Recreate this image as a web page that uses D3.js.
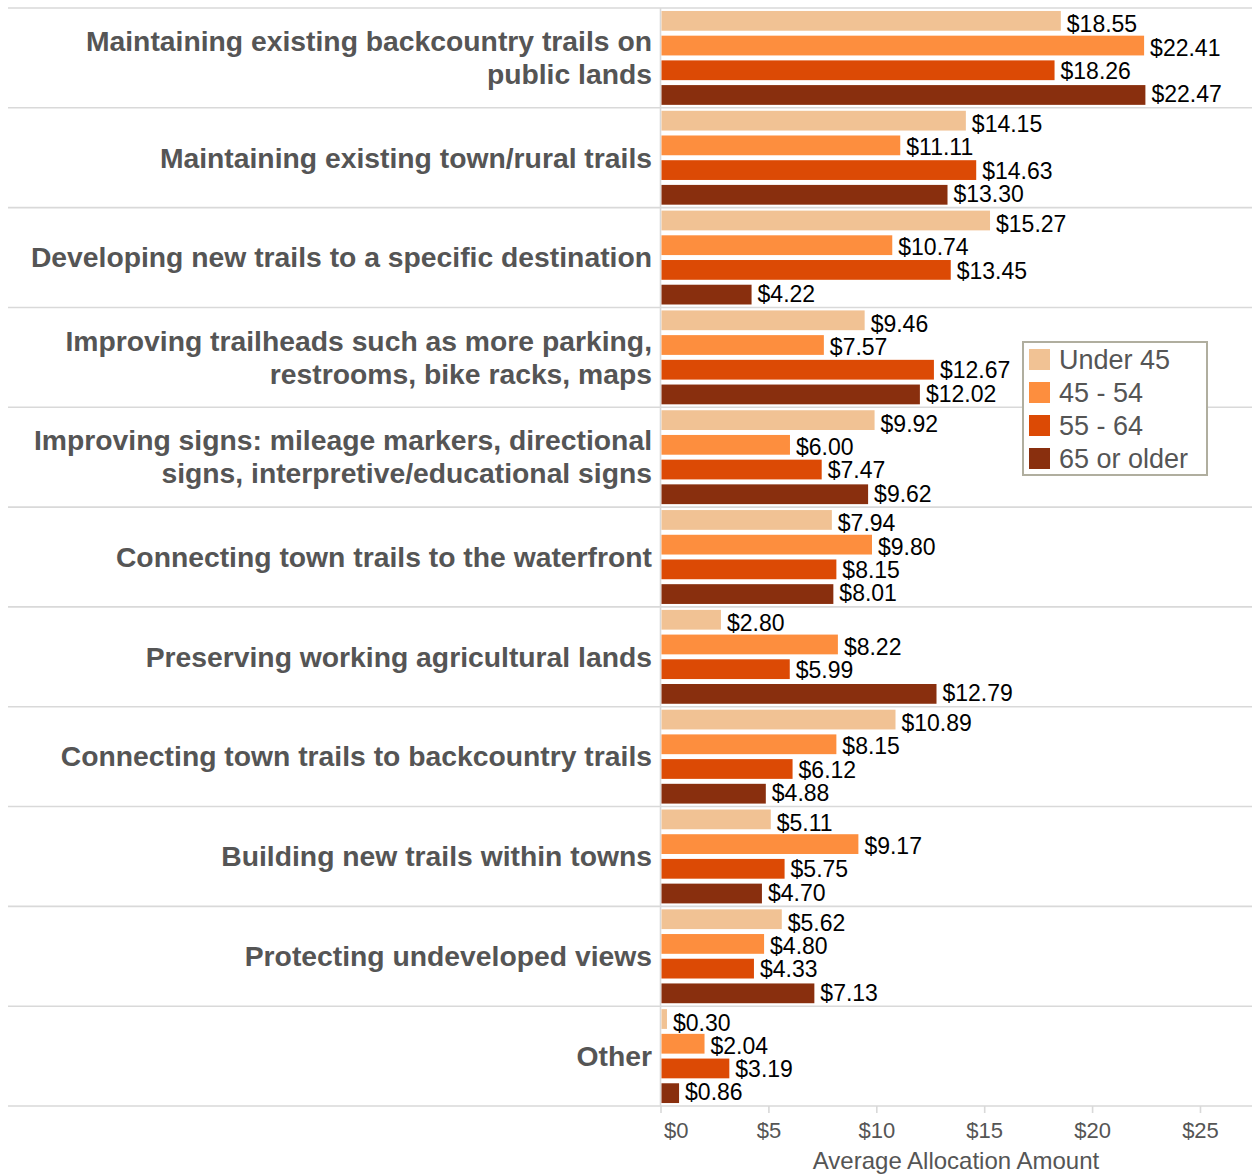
<!DOCTYPE html>
<html>
<head>
<meta charset="utf-8">
<script src="https://cdn.jsdelivr.net/npm/d3@7"></script>
<style>
  html, body { margin: 0; padding: 0; background: #fff; }
  svg { display: block; font-family: "Liberation Sans", Arial, sans-serif; }
</style>
</head>
<body>
<svg id="chart" width="1252" height="1175"></svg>
<script>
// Trail spending priorities: average allocation by age group
const categories = [
  "Maintaining existing backcountry trails on\npublic lands",
  "Maintaining existing town/rural trails",
  "Developing new trails to a specific destination",
  "Improving trailheads such as more parking,\nrestrooms, bike racks, maps",
  "Improving signs: mileage markers, directional\nsigns, interpretive/educational signs",
  "Connecting town trails to the waterfront",
  "Preserving working agricultural lands",
  "Connecting town trails to backcountry trails",
  "Building new trails within towns",
  "Protecting undeveloped views",
  "Other"
];
const seriesNames = ["Under 45", "45 - 54", "55 - 64", "65 or older"];
const under45   = [18.55, 14.15, 15.27, 9.46, 9.92, 7.94, 2.80, 10.89, 5.11, 5.62, 0.30];
const age45to54 = [22.41, 11.11, 10.74, 7.57, 6.00, 9.80, 8.22, 8.15, 9.17, 4.80, 2.04];
const age55to64 = [18.26, 14.63, 13.45, 12.67, 7.47, 8.15, 5.99, 6.12, 5.75, 4.33, 3.19];
const age65plus = [22.47, 13.30, 4.22, 12.02, 9.62, 8.01, 12.79, 4.88, 4.70, 7.13, 0.86];
const seriesValues = [under45, age45to54, age55to64, age65plus];
const xTicks = [0, 5, 10, 15, 20, 25];
const xMax = 27.41;
const axisTitle = "Average Allocation Amount";

const colors = ["#f1c294", "#fd8e3e", "#dc4a05", "#892f0e"];
const gridColor = "#d9d9d9";
const textGrey = "#555555";

const svg = d3.select("#chart");
const plot = { left: 660.5, right: 1252, top: 8, bottom: 1106 };

const x = d3.scaleLinear().domain([0, xMax]).range([plot.left, plot.right]);
const y = d3.scaleBand().domain(d3.range(categories.length)).range([plot.top, plot.bottom]);
const inner = d3.scaleBand().domain(d3.range(seriesNames.length))
  .range([0, y.bandwidth()]).paddingInner(0.2).paddingOuter(0.12);
// value labels sit on a slightly tighter vertical rhythm than the bars
const labelStep = 23.3;

const rows = categories.map((c, i) => ({
  name: c, i,
  vals: seriesValues.map((s, k) => ({ k, v: s[i] }))
}));

// row separators
svg.append("g").selectAll("line")
  .data(d3.range(categories.length + 1))
  .join("line")
  .attr("x1", 8).attr("x2", 1252)
  .attr("y1", d => d === categories.length ? plot.bottom : y(d))
  .attr("y2", d => d === categories.length ? plot.bottom : y(d))
  .attr("stroke", gridColor).attr("stroke-width", 1.6);

// baseline at zero
svg.append("line")
  .attr("x1", x(0)).attr("x2", x(0))
  .attr("y1", plot.top).attr("y2", plot.bottom)
  .attr("stroke", gridColor).attr("stroke-width", 1.6);

// bars and value labels
const g = svg.append("g").selectAll("g").data(rows).join("g")
  .attr("transform", d => `translate(0,${y(d.i)})`);

g.selectAll("rect").data(d => d.vals).join("rect")
  .attr("x", x(0) + 1)
  .attr("y", d => inner(d.k))
  .attr("width", d => Math.max(0, x(d.v) - x(0) - 1))
  .attr("height", inner.bandwidth())
  .attr("fill", d => colors[d.k]);

g.selectAll("text.val").data(d => d.vals).join("text")
  .attr("class", "val")
  .attr("x", d => x(d.v) + 6)
  .attr("y", d => y.bandwidth() / 2 + 0.8 + (d.k - 1.5) * labelStep + 8.6)
  .attr("font-size", 23)
  .attr("fill", "#000")
  .text(d => "$" + d.v.toFixed(2));

// category labels
g.append("text")
  .attr("text-anchor", "end")
  .attr("font-size", 28.3)
  .attr("font-weight", "bold")
  .attr("fill", textGrey)
  .each(function(d) {
    const lines = d.name.split("\n");
    const lh = 33;
    const c = y.bandwidth() / 2;
    d3.select(this).selectAll("tspan").data(lines).join("tspan")
      .attr("x", 652)
      .attr("y", (l, j) => c + (j - (lines.length - 1) / 2) * lh + 9.8)
      .text(l => l);
  });

// x axis
const axis = svg.append("g")
  .attr("transform", `translate(0,${plot.bottom})`)
  .call(d3.axisBottom(x).tickValues(xTicks).tickFormat(d => "$" + d).tickSize(7));
axis.select(".domain").remove();
axis.selectAll(".tick line").attr("stroke", gridColor).attr("stroke-width", 1.6);
axis.selectAll(".tick text")
  .attr("font-size", 22).attr("fill", textGrey)
  .attr("font-family", "Liberation Sans, Arial, sans-serif")
  .attr("y", 32).attr("dy", null)
  .attr("text-anchor", d => d === 0 ? "start" : "middle")
  .attr("dx", d => d === 0 ? 3 : 0);

svg.append("text")
  .attr("x", 956).attr("y", 1169)
  .attr("text-anchor", "middle")
  .attr("font-size", 24).attr("fill", textGrey)
  .text(axisTitle);

// legend
const lg = svg.append("g").attr("transform", "translate(1023,342)");
lg.append("rect").attr("width", 184).attr("height", 133)
  .attr("fill", "#fff").attr("stroke", "#b0ae9f").attr("stroke-width", 2);
const items = lg.selectAll("g").data(seriesNames).join("g")
  .attr("transform", (d, i) => `translate(6,${7 + i * 33})`);
items.append("rect").attr("width", 21).attr("height", 21).attr("fill", (d, i) => colors[i]);
items.append("text").attr("x", 30).attr("y", 19.5)
  .attr("font-size", 27).attr("fill", textGrey)
  .text(d => d);
</script>
</body>
</html>
